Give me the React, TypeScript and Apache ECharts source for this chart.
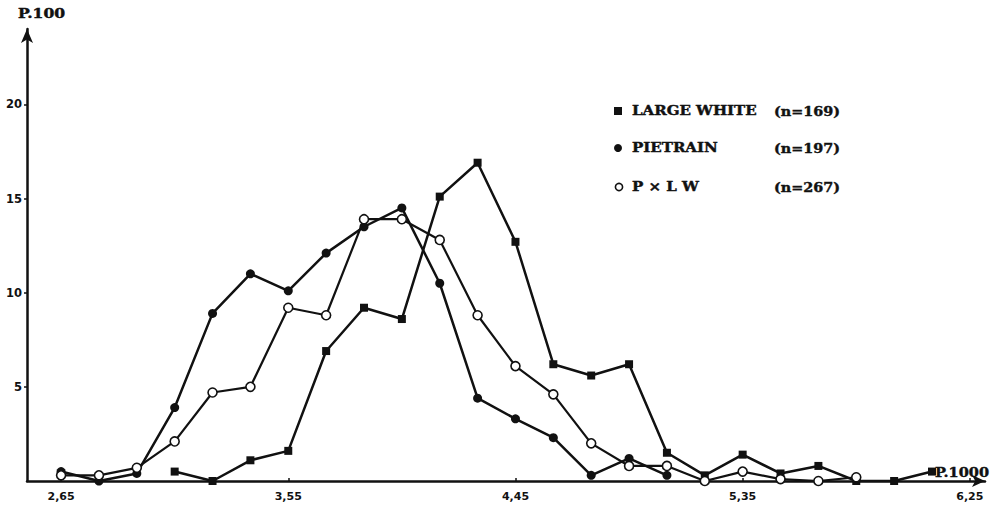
import React, { useEffect, useRef } from "react";
import * as echarts from "echarts";

// Weight classes (P.1000)
const xValues = [2.65, 2.8, 2.95, 3.1, 3.25, 3.4, 3.55, 3.7, 3.85, 4.0, 4.15, 4.3, 4.45, 4.6, 4.75, 4.9, 5.05, 5.2, 5.35, 5.5, 5.65, 5.8, 5.95, 6.1, 6.25];
// Frequencies (P.100)
const largeWhite = [null, null, null, 0.5, 0, 1.1, 1.6, 6.9, 9.2, 8.6, 15.1, 16.9, 12.7, 6.2, 5.6, 6.2, 1.5, 0.3, 1.4, 0.4, 0.8, 0, 0, 0.5, null];
const pietrain = [0.5, 0, 0.4, 3.9, 8.9, 11.0, 10.1, 12.1, 13.5, 14.5, 10.5, 4.4, 3.3, 2.3, 0.3, 1.2, 0.3, null, null, null, null, null, null, null, null];
const pxlw = [0.3, 0.3, 0.7, 2.1, 4.7, 5.0, 9.2, 8.8, 13.9, 13.9, 12.8, 8.8, 6.1, 4.6, 2.0, 0.8, 0.8, 0, 0.5, 0.1, 0, 0.2, null, null, null];

const xTickValues = [2.65, 3.55, 4.45, 5.35, 6.25];
const yTickValues = [5, 10, 15, 20];
const seriesNames = ["LARGE WHITE", "PIETRAIN", "P × L W"];
const seriesCounts = ["(n=169)", "(n=197)", "(n=267)"];
const yAxisName = "P.100";
const xAxisName = "P.1000";

const INK = "#111";

function toPairs(arr: (number | null)[]) {
  return xValues.map((x, i) => [x, arr[i]]).filter((p) => p[1] !== null);
}

export default function App() {
  const ref = useRef<HTMLDivElement>(null);
  useEffect(() => {
    if (!ref.current) return;
    const chart = echarts.init(ref.current, null, { renderer: "svg" });
    const serifBold = (size: number) => `bold ${size}px "DejaVu Serif"`;
    const legendRows = [111, 148, 187];
    const legendGraphics: any[] = [];
    legendGraphics.push({ type: "rect", shape: { x: 614, y: legendRows[0] - 4, width: 8, height: 8 }, style: { fill: INK } });
    legendGraphics.push({ type: "circle", shape: { cx: 618, cy: legendRows[1], r: 4 }, style: { fill: INK } });
    legendGraphics.push({ type: "circle", shape: { cx: 619, cy: legendRows[2], r: 3.6 }, style: { fill: "#fff", stroke: INK, lineWidth: 1.6 } });
    seriesNames.forEach((name, i) => {
      legendGraphics.push({
        type: "text",
        x: 632,
        y: legendRows[i],
        scaleX: 1.25,
        style: { text: name, font: serifBold(12), fill: INK, stroke: INK, lineWidth: 0.4, textAlign: "left", textVerticalAlign: "middle" },
      });
      legendGraphics.push({
        type: "text",
        x: 774,
        y: legendRows[i],
        scaleX: 1.15,
        style: { text: seriesCounts[i], font: serifBold(12.5), fill: INK, stroke: INK, lineWidth: 0.4, textAlign: "left", textVerticalAlign: "middle" },
      });
    });
    legendGraphics.push({
      type: "text",
      x: 18,
      y: 14,
      scaleX: 1.3,
      style: { text: yAxisName, font: serifBold(12), fill: INK, stroke: INK, lineWidth: 0.4, textAlign: "left", textVerticalAlign: "middle" },
    });
    legendGraphics.push({
      type: "text",
      x: 935,
      y: 472,
      scaleX: 1.12,
      style: { text: xAxisName, font: serifBold(13), fill: INK, stroke: INK, lineWidth: 0.4, textAlign: "left", textVerticalAlign: "middle" },
    });

    const labelFont = { fontFamily: "DejaVu Sans", fontWeight: "bold" as const, fontSize: 11, color: INK };

    chart.setOption({
      animation: false,
      backgroundColor: "#fff",
      grid: { left: 27, right: 13, top: 29, bottom: 30, containLabel: false },
      xAxis: {
        type: "value",
        min: 2.515,
        max: 6.31,
        axisLine: { show: true, onZero: true, symbol: ["none", "arrow"], symbolSize: [9, 13], lineStyle: { color: INK, width: 2.5 } },
        axisTick: { show: true, inside: true, length: 3, customValues: xTickValues, lineStyle: { color: INK, width: 1.5 } },
        axisLabel: {
          ...labelFont,
          margin: 10,
          customValues: xTickValues,
          formatter: (v: number) => v.toFixed(2).replace(".", ","),
        },
        splitLine: { show: false },
      },
      yAxis: {
        type: "value",
        min: 0,
        max: 24,
        axisLine: { show: true, symbol: ["none", "arrow"], symbolSize: [9, 14], lineStyle: { color: INK, width: 2.5 } },
        axisTick: { show: true, length: 3, customValues: yTickValues, lineStyle: { color: INK, width: 1.5 } },
        axisLabel: { ...labelFont, fontSize: 11.5, margin: 5, customValues: yTickValues, formatter: (v: number) => String(v) },
        splitLine: { show: false },
      },
      graphic: legendGraphics,
      series: [
        {
          name: seriesNames[0],
          type: "line",
          data: toPairs(largeWhite),
          symbol: "rect",
          symbolSize: 8,
          itemStyle: { color: INK },
          lineStyle: { color: INK, width: 2.5 },
          z: 2,
        },
        {
          name: seriesNames[1],
          type: "line",
          data: toPairs(pietrain),
          symbol: "circle",
          symbolSize: 9,
          itemStyle: { color: INK },
          lineStyle: { color: INK, width: 2.5 },
          z: 3,
        },
        {
          name: seriesNames[2],
          type: "line",
          data: toPairs(pxlw),
          symbol: "circle",
          symbolSize: 9,
          showAllSymbol: true,
          itemStyle: { color: "#fff", borderColor: INK, borderWidth: 1.6 },
          lineStyle: { color: INK, width: 2.2 },
          z: 4,
        },
      ],
    });
    return () => chart.dispose();
  }, []);
  return (
    <div
      ref={ref}
      style={{ position: "absolute", left: 0, top: 0, width: 998, height: 511, background: "#fff" }}
    />
  );
}
